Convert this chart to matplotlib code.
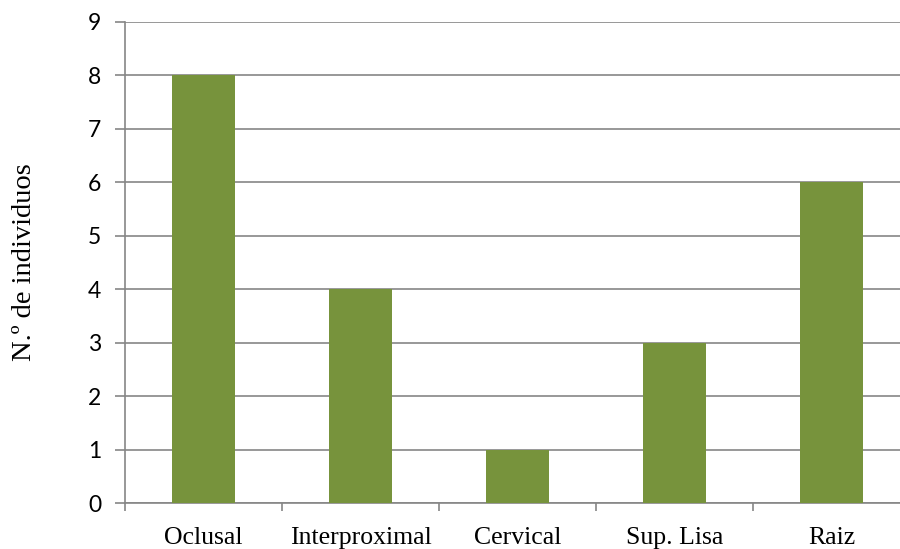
import matplotlib
matplotlib.use("Agg")
import matplotlib.pyplot as plt
import numpy as np

categories = ["Oclusal", "Interproximal", "Cervical", "Sup. Lisa", "Raiz"]
values = [8, 4, 1, 3, 6]
y_ticks = list(range(0, 10))
y_label = "N.º de individuos"

bar_color = "#77933C"
grid_color = "#868686"

fig = plt.figure(figsize=(9.0, 5.49), dpi=100)
ax = fig.add_axes([125 / 900, 1 - 503 / 549, 785 / 900, (503 - 22) / 549])

x = np.arange(len(categories))
ax.bar(x, values, width=0.4, color=bar_color, zorder=3)

ax.set_xlim(-0.5, len(categories) - 0.5)
ax.set_ylim(0, 9)
ax.set_yticks(y_ticks)
ax.set_yticklabels([str(t) for t in y_ticks], fontfamily="Lato", fontsize=16.5)
ax.yaxis.grid(True, color=grid_color, linewidth=1.2, zorder=0)

ax.set_xticks(x)
ax.set_xticklabels(categories, fontfamily="Liberation Serif", fontsize=18.5)
ax.set_xticks(np.arange(-0.5, len(categories)), minor=True)
ax.tick_params(axis="x", which="major", length=0, pad=17)
ax.tick_params(axis="x", which="minor", length=6, width=1.2, color=grid_color)
ax.tick_params(axis="y", length=7, width=1.2, color=grid_color, pad=10)

for side in ("top", "right"):
    ax.spines[side].set_visible(False)
for side in ("left", "bottom"):
    ax.spines[side].set_color(grid_color)
    ax.spines[side].set_linewidth(1.2)

fig.text(25 / 900, 1 - 262 / 549, y_label, rotation=90, ha="center", va="center",
         fontfamily="Liberation Serif", fontsize=20.5)

fig.savefig("out.png", dpi=100)
